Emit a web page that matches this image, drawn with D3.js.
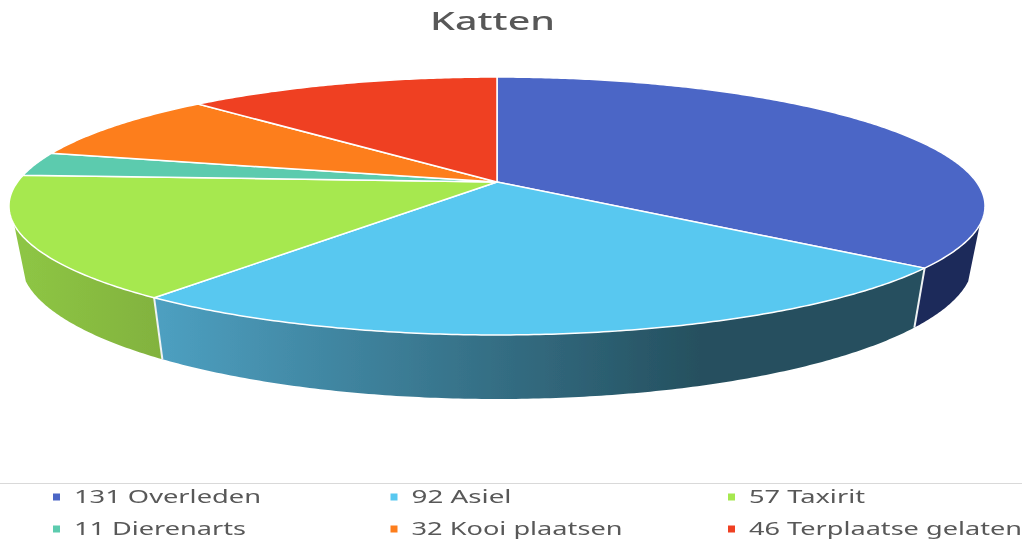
<!DOCTYPE html>
<html>
<head>
<meta charset="utf-8">
<script src="https://cdn.jsdelivr.net/npm/d3@7"></script>
<style>
  html, body { margin: 0; padding: 0; background: #fff; }
  svg { display: block; }
  text { font-family: "Noto Sans", sans-serif; }
</style>
</head>
<body>
<div id="app"></div>
<script>
const width = 1022,
  height = 540;

const categories = ["Overleden", "Asiel", "Taxirit", "Dierenarts", "Kooi plaatsen", "Terplaatse gelaten"];
const values = [131, 92, 57, 11, 32, 46];
const colors = ["#4c66c6", "#58c8f0", "#a6e850", "#5ccbae", "#fd7e1e", "#ef4122"];
const wallStops = [
  ["#1e2a5a", "#1e2a5a"],
  ["#4d9fc0", "#25505f"],
  ["#8dc544", "#82b23e"]
];
const legendWidths = [187, 100, 116, 172, 211, 273];

// tilted disc: centre of the pie sits above the middle of the ellipse
const tilt = 0.186;
const x = d3.scaleLinear().domain([-1, 1]).range([497 - 479.5, 497 + 479.5]);
const y = d3.scaleLinear().domain([-1, 1]).range([182 - 124.5, 182 + 124.5]);
const xBottom = d3.scaleLinear().domain([-1, 1]).range([497 - 468, 497 + 468]);
const yBottom = d3.scaleLinear().domain([-1, 1]).range([235.6 - 133, 235.6 + 133]);

function rim(a, sx, sy) {
  const u = Math.sin(a), v = -Math.cos(a), w = 1 - tilt * v;
  return [sx(u / w), sy(v / w)];
}
const topRim = (a) => rim(a, x, y);
const bottomRim = (a) => rim(a, xBottom, yBottom);
const line = d3.line();

function arcPoints(a0, a1, fn) {
  const n = Math.max(2, Math.ceil(Math.abs(a1 - a0) / 0.01));
  return d3.range(n + 1).map((i) => fn(a0 + ((a1 - a0) * i) / n));
}

const pie = d3.pie().sort(null).value((d) => d)(values);

const svg = d3.select("#app").append("svg").attr("width", width).attr("height", height);
const defs = svg.append("defs");

// the reference is a slightly soft upscaled image
defs.append("filter")
  .attr("id", "soft")
  .attr("x", 0).attr("y", 0)
  .attr("width", 1).attr("height", 1)
  .attr("filterUnits", "objectBoundingBox")
  .append("feGaussianBlur")
  .attr("stdDeviation", 0.5);

const chart = svg.append("g").attr("filter", "url(#soft)");

chart.append("rect").attr("width", width).attr("height", height).attr("fill", "#fff");

chart.append("text")
  .attr("x", 492.5)
  .attr("y", 30)
  .attr("text-anchor", "middle")
  .attr("fill", "#595959")
  .attr("font-size", 25)
  .attr("font-weight", 500)
  .attr("textLength", 125)
  .attr("lengthAdjust", "spacingAndGlyphs")
  .text("Katten");

// side wall only shows from where the rim drops out of the silhouette
const wallStart = (108.9 * Math.PI) / 180;
const wallEnd = (251.1 * Math.PI) / 180;
const walls = pie
  .map((d, i) => ({
    a0: Math.max(d.startAngle, wallStart),
    a1: Math.min(d.endAngle, wallEnd),
    i
  }))
  .filter((d) => d.a1 > d.a0);

walls.forEach((d) => {
  const g = defs.append("linearGradient")
    .attr("id", "wall" + d.i)
    .attr("gradientUnits", "userSpaceOnUse")
    .attr("x1", bottomRim(d.a1)[0])
    .attr("x2", d.i === 1 ? 700 : bottomRim(d.a0)[0])
    .attr("y1", 0)
    .attr("y2", 0);
  g.append("stop").attr("offset", 0).attr("stop-color", wallStops[d.i][0]);
  g.append("stop").attr("offset", 1).attr("stop-color", wallStops[d.i][1]);
});

chart.append("g")
  .selectAll("path")
  .data(walls)
  .join("path")
  .attr("d", (d) =>
    line(arcPoints(d.a0, d.a1, topRim).concat(arcPoints(d.a1, d.a0, bottomRim))) + "Z"
  )
  .attr("fill", (d) => "url(#wall" + d.i + ")");

// white joints between the wall pieces
chart.append("g")
  .selectAll("path")
  .data(walls.slice(1))
  .join("path")
  .attr("d", (d) => line([topRim(d.a0), bottomRim(d.a0)]))
  .attr("stroke", "#eef2f3")
  .attr("stroke-width", 2)
  .attr("fill", "none");

chart.append("g")
  .selectAll("path")
  .data(pie)
  .join("path")
  .attr("d", (d) => line([[x(0), y(0)]].concat(arcPoints(d.startAngle, d.endAngle, topRim))) + "Z")
  .attr("fill", (d, i) => colors[i])
  .attr("stroke", "#fff")
  .attr("stroke-width", 1.5)
  .attr("stroke-linejoin", "round");

// legend
chart.append("line")
  .attr("x1", 0).attr("x2", width)
  .attr("y1", 483.5).attr("y2", 483.5)
  .attr("stroke", "#d9d9d9")
  .attr("stroke-width", 1);

const legendX = d3.scalePoint().domain([0, 1, 2]).range([53, 728]);
const legendY = d3.scalePoint().domain([0, 1]).range([497, 529]);

const item = chart.append("g")
  .selectAll("g")
  .data(categories)
  .join("g")
  .attr("transform", (d, i) => `translate(${legendX(i % 3)},${legendY(Math.floor(i / 3))})`);

item.append("rect")
  .attr("x", 0).attr("y", -3.5)
  .attr("width", 7).attr("height", 7)
  .attr("fill", (d, i) => colors[i]);

item.append("text")
  .attr("x", 21)
  .attr("y", 5.5)
  .attr("fill", "#595959")
  .attr("font-size", 18)
  .attr("textLength", (d, i) => legendWidths[i])
  .attr("lengthAdjust", "spacingAndGlyphs")
  .text((d, i) => values[i] + " " + d);
</script>
</body>
</html>
